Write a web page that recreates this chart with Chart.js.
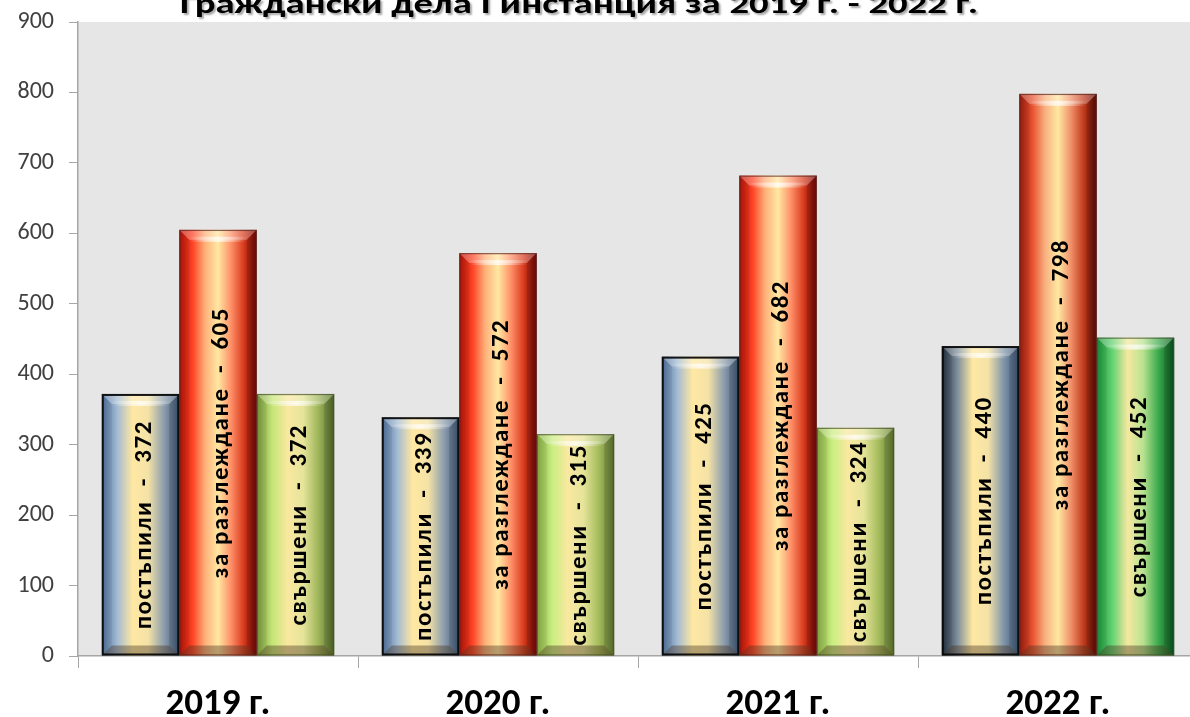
<!DOCTYPE html>
<html lang="bg">
<head>
  <meta charset="UTF-8">
  <title>Граждански дела I инстанция</title>
  <script src="https://cdn.jsdelivr.net/npm/chart.js"></script>
  <style>
    html, body { margin: 0; padding: 0; background: #fff; overflow: hidden; }
    #wrap { position: absolute; left: 0; top: 0; }
    canvas { display: block; }
  </style>
</head>
<body>
  <div id="wrap">
    <canvas id="casesChart" width="1198" height="717"></canvas>
  </div>

  <script>
    // данни
    const years = ['2019 г.', '2020 г.', '2021 г.', '2022 г.'];
    const seriesNames = ['постъпили', 'за разглеждане', 'свършени'];
    const received = [372, 339, 425, 440];
    const pending = [605, 572, 682, 798];
    const completed = [372, 315, 324, 452];
    const yTicks = [0, 100, 200, 300, 400, 500, 600, 700, 800, 900];
    const chartTitle = 'Граждански дела I инстанция за 2019 г. - 2022 г.';

    // цветове на "стъклените" колони (ляв ръб -> център -> десен ръб), по години
    const barStops = [
      [
        ['#4b6d99', '#a3bbd3', '#ffe8a2', '#f4e2a6', '#8d9eae', '#3c5574'],
        ['#4b6d99', '#a3bbd3', '#ffe8a2', '#f4e2a6', '#8d9eae', '#3c5574'],
        ['#4b6d99', '#a3bbd3', '#ffe8a2', '#f4e2a6', '#8d9eae', '#3c5574'],
        ['#1f2c3a', '#7d8e9c', '#ffe8a2', '#f4e2a6', '#7f95aa', '#3a5271']
      ],
      [
        ['#b01208', '#ff4022', '#ffb07a', '#ffe8a2', '#ff9068', '#d83a1c', '#6e0404'],
        ['#b01208', '#ff4022', '#ffb07a', '#ffe8a2', '#ff9068', '#d83a1c', '#6e0404'],
        ['#b01208', '#ff4022', '#ffb07a', '#ffe8a2', '#ff9068', '#d83a1c', '#6e0404'],
        ['#9a1a0c', '#e8502e', '#f8b080', '#ffe8a2', '#f0906a', '#c03a1c', '#5a0a04']
      ],
      [
        ['#76963a', '#c4e676', '#fae8a0', '#e6e49a', '#9cb458', '#52692a'],
        ['#86ac40', '#c8ee80', '#fae8a0', '#e6e49a', '#a4bc5c', '#5e762e'],
        ['#86ac40', '#c8ee80', '#fae8a0', '#e6e49a', '#a4bc5c', '#5e762e'],
        ['#189038', '#62d272', '#f6e8a0', '#b8e290', '#38a84a', '#0a5220']
      ]
    ];
    const barBorders = ['rgba(10,10,10,0.95)', 'rgba(90,40,30,0.7)', 'rgba(70,80,40,0.7)'];
    const barBorderWidths = [2, 1.2, 1.2];

    const fontFamily = 'Calibri, Carlito, Lato, sans-serif';

    // фон на областта с графиката
    const plotBackground = {
      id: 'plotBackground',
      beforeDraw(chart) {
        const { ctx, chartArea: a } = chart;
        ctx.save();
        ctx.fillStyle = '#e6e6e6';
        ctx.fillRect(a.left, a.top, a.right - a.left, a.bottom - a.top);
        ctx.restore();
      }
    };

    // колони с фаска
    function drawBevelBar(ctx, el, stops, border, bw) {
      const x0 = el.x - el.width / 2, x1 = el.x + el.width / 2;
      const y0 = el.y, y1 = el.base;
      const w = x1 - x0, h = y1 - y0;
      const b = Math.min(10, h / 3);

      const g = ctx.createLinearGradient(x0, 0, x1, 0);
      stops.forEach((c, i) => g.addColorStop(i / (stops.length - 1), c));
      ctx.fillStyle = g;
      ctx.fillRect(x0, y0, w, h);

      // горна фаска
      ctx.beginPath();
      ctx.moveTo(x0, y0); ctx.lineTo(x1, y0);
      ctx.lineTo(x1 - b, y0 + b); ctx.lineTo(x0 + b, y0 + b);
      ctx.closePath();
      ctx.fillStyle = 'rgba(255,255,255,0.28)';
      ctx.fill();

      // отблясък
      const hg = ctx.createLinearGradient(x0 + b, 0, x1 - b, 0);
      hg.addColorStop(0, 'rgba(255,255,255,0)');
      hg.addColorStop(0.5, 'rgba(255,255,255,0.75)');
      hg.addColorStop(1, 'rgba(255,255,255,0)');
      ctx.fillStyle = hg;
      ctx.fillRect(x0 + b, y0 + b - 3, w - 2 * b, 5);

      // странични фаски
      ctx.beginPath();
      ctx.moveTo(x0, y0); ctx.lineTo(x0 + b, y0 + b);
      ctx.lineTo(x0 + b, y1 - b); ctx.lineTo(x0, y1);
      ctx.closePath();
      ctx.fillStyle = 'rgba(0,0,0,0.06)';
      ctx.fill();
      ctx.beginPath();
      ctx.moveTo(x1, y0); ctx.lineTo(x1 - b, y0 + b);
      ctx.lineTo(x1 - b, y1 - b); ctx.lineTo(x1, y1);
      ctx.closePath();
      ctx.fillStyle = 'rgba(0,0,0,0.12)';
      ctx.fill();

      // долна фаска
      ctx.beginPath();
      ctx.moveTo(x0, y1); ctx.lineTo(x1, y1);
      ctx.lineTo(x1 - b, y1 - b); ctx.lineTo(x0 + b, y1 - b);
      ctx.closePath();
      ctx.fillStyle = 'rgba(70,50,30,0.4)';
      ctx.fill();

      ctx.strokeStyle = border;
      ctx.lineWidth = bw;
      ctx.strokeRect(x0 + bw / 2, y0 + bw / 2, w - bw, h - bw);
    }

    const bevelBars = {
      id: 'bevelBars',
      afterDatasetDraw(chart, args) {
        const ctx = chart.ctx;
        const i = args.index;
        ctx.save();
        args.meta.data.forEach((el, j) => {
          drawBevelBar(ctx, el, barStops[i][j], barBorders[i], barBorderWidths[i]);
        });
        ctx.restore();
      }
    };

    // вертикални надписи в колоните
    const barLabels = {
      id: 'barLabels',
      afterDatasetsDraw(chart) {
        const ctx = chart.ctx;
        ctx.save();
        ctx.font = 'bold 25px ' + fontFamily;
        ctx.letterSpacing = '1.5px';
        ctx.fillStyle = '#000';
        ctx.textAlign = 'center';
        ctx.textBaseline = 'middle';
        chart.data.datasets.forEach((ds, i) => {
          chart.getDatasetMeta(i).data.forEach((el, j) => {
            const txt = seriesNames[i] + '  -  ' + ds.data[j];
            ctx.save();
            ctx.translate(el.x + 4, (el.y + el.base) / 2);
            ctx.rotate(-Math.PI / 2);
            ctx.fillText(txt, 0, 0);
            ctx.restore();
          });
        });
        ctx.restore();
      }
    };

    // заглавие (отрязано отгоре, както в оригинала)
    const topTitle = {
      id: 'topTitle',
      afterDraw(chart) {
        const ctx = chart.ctx;
        ctx.save();
        ctx.font = 'bold 28px ' + fontFamily;
        ctx.textAlign = 'center';
        ctx.textBaseline = 'alphabetic';
        const m = ctx.measureText(chartTitle).width;
        ctx.translate(579, 13);
        ctx.scale(798 / m, 1);
        ctx.shadowColor = 'rgba(0,0,0,0.35)';
        ctx.shadowOffsetX = 2;
        ctx.shadowOffsetY = 2;
        ctx.shadowBlur = 2;
        ctx.fillStyle = '#000';
        ctx.fillText(chartTitle, 0, 0);
        ctx.restore();
      }
    };

    const ctx = document.getElementById('casesChart').getContext('2d');
    new Chart(ctx, {
      type: 'bar',
      data: {
        labels: years,
        datasets: [received, pending, completed].map((vals, i) => ({
          label: seriesNames[i],
          data: vals,
          backgroundColor: 'rgba(0,0,0,0)',
          borderWidth: 0,
          categoryPercentage: 0.83,
          barPercentage: 1
        }))
      },
      options: {
        responsive: false,
        animation: false,
        layout: { padding: { top: 22, left: 0, right: 0, bottom: 0 } },
        plugins: {
          legend: { display: false },
          title: { display: false },
          tooltip: { enabled: false }
        },
        scales: {
          x: {
            grid: { offset: true, drawOnChartArea: false, tickLength: 12, color: '#a6a6a6' },
            border: { color: '#a6a6a6', width: 1.5 },
            ticks: { color: '#000', font: { family: fontFamily, size: 37, weight: 'bold' }, padding: 15 },
            afterFit(scale) { scale.height = 61; }
          },
          y: {
            min: 0,
            max: 900,
            afterBuildTicks(scale) { scale.ticks = yTicks.map(v => ({ value: v })); },
            grid: { drawOnChartArea: false, tickLength: 9, color: '#a6a6a6' },
            border: { color: '#a6a6a6', width: 1.5 },
            ticks: { color: '#404040', font: { family: fontFamily, size: 24 }, padding: 15 },
            afterFit(scale) {
              scale.width = 78;
              scale.paddingTop = 0;
              scale.paddingBottom = 0;
            }
          }
        }
      },
      plugins: [plotBackground, bevelBars, barLabels, topTitle]
    });
  </script>
</body>
</html>
